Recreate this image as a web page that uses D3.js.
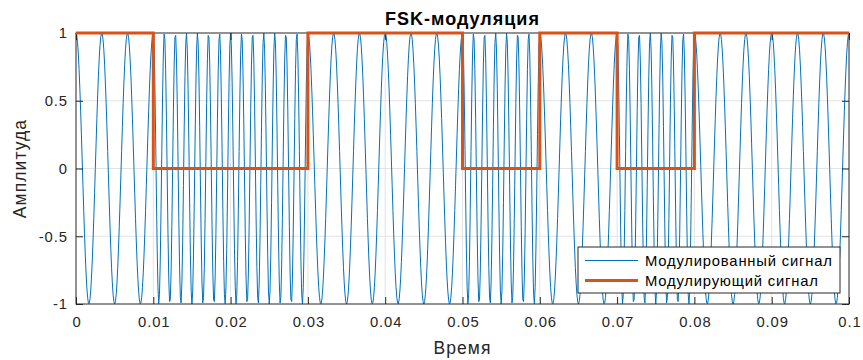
<!DOCTYPE html>
<html>
<head>
<meta charset="utf-8">
<script src="https://cdn.jsdelivr.net/npm/d3@7"></script>
<style>
  body { margin: 0; background: #fff; }
  svg { display: block; font-family: "Liberation Sans", Arial, sans-serif; }
</style>
</head>
<body>
<div id="chart"></div>
<script>
// FSK modulation chart

// bit sequence, one bit per 0.01 s
var bits = [1, 0, 0, 1, 1, 0, 1, 0, 1, 1];
var bitDuration = 0.01;
// carrier frequency (Hz) for bit 0 and bit 1
var carrierFreq = [700, 300];
var sampleRate = 10000;

var xTicks = [0, 0.01, 0.02, 0.03, 0.04, 0.05, 0.06, 0.07, 0.08, 0.09, 0.1];
var xTickLabels = ['0', '0.01', '0.02', '0.03', '0.04', '0.05', '0.06', '0.07', '0.08', '0.09', '0.1'];
var yTicks = [-1, -0.5, 0, 0.5, 1];
var yTickLabels = ['-1', '-0.5', '0', '0.5', '1'];
var seriesNames = ['Модулированный сигнал', 'Модулирующий сигнал'];

var width = 863, height = 360;
var margin = {top: 33, right: 14, bottom: 56, left: 76};
var w = width - margin.left - margin.right,
    h = height - margin.top - margin.bottom;

var blue = '#0072BD', orange = '#D95319', axisColor = '#262626';

// modulated signal sampled like the original plot
var nSamples = Math.round(bits.length * bitDuration * sampleRate);
var modulated = d3.range(nSamples + 1).map(function(i) {
  var t = i / sampleRate;
  var k = Math.min(Math.floor(i / (bitDuration * sampleRate)), bits.length - 1);
  return {t: t, v: Math.cos(2 * Math.PI * carrierFreq[bits[k]] * t)};
});

// digital signal as steps
var digital = bits.map(function(b, i) { return {t: i * bitDuration, v: b}; });
digital.push({t: bits.length * bitDuration, v: bits[bits.length - 1]});

var x = d3.scaleLinear().domain([0, 0.1]).range([0, w]);
var y = d3.scaleLinear().domain([-1, 1]).range([h, 0]);

var svg = d3.select('#chart').append('svg')
  .attr('width', width)
  .attr('height', height);

var g = svg.append('g')
  .attr('transform', 'translate(' + margin.left + ',' + margin.top + ')');

// grid
g.append('g').selectAll('line')
  .data(xTicks.slice(1, -1))
  .enter().append('line')
  .attr('x1', function(d) { return x(d); })
  .attr('x2', function(d) { return x(d); })
  .attr('y1', 0).attr('y2', h)
  .style('stroke', '#e3e3e3').style('stroke-width', 1);

g.append('g').selectAll('line')
  .data(yTicks.slice(1, -1))
  .enter().append('line')
  .attr('y1', function(d) { return y(d); })
  .attr('y2', function(d) { return y(d); })
  .attr('x1', 0).attr('x2', w)
  .style('stroke', '#e3e3e3').style('stroke-width', 1);

// modulated line
g.append('path')
  .datum(modulated)
  .attr('d', d3.line().x(function(d) { return x(d.t); }).y(function(d) { return y(d.v); }))
  .style('fill', 'none')
  .style('stroke', blue)
  .style('stroke-width', 1);

// axes, ticks inward on all four sides
var tickLen = 7;
var xAxis = g.append('g')
  .attr('transform', 'translate(0,' + h + ')')
  .call(d3.axisBottom(x).tickValues(xTicks).tickSize(-tickLen).tickPadding(12)
    .tickFormat(function(d, i) { return xTickLabels[i]; }));
var yAxis = g.append('g')
  .call(d3.axisLeft(y).tickValues(yTicks).tickSize(-tickLen).tickPadding(9)
    .tickFormat(function(d, i) { return yTickLabels[i]; }));
var xAxisTop = g.append('g')
  .call(d3.axisTop(x).tickValues(xTicks).tickSize(-tickLen).tickFormat(''));
var yAxisRight = g.append('g')
  .attr('transform', 'translate(' + w + ',0)')
  .call(d3.axisRight(y).tickValues(yTicks).tickSize(-tickLen).tickFormat(''));

[xAxis, yAxis, xAxisTop, yAxisRight].forEach(function(a) {
  a.select('.domain').remove();
  a.selectAll('.tick line').style('stroke', axisColor);
  a.selectAll('.tick text')
    .style('fill', axisColor)
    .style('font-size', '14.8px')
    .style('letter-spacing', '0.9px')
    .style('font-family', '"Liberation Sans", Arial, sans-serif');
});
yAxis.selectAll('.tick text').attr('dx', '0.9px');
xAxis.selectAll('.tick text').attr('dx', '0.45px');

g.append('rect')
  .attr('width', w).attr('height', h)
  .style('fill', 'none')
  .style('stroke', axisColor)
  .style('stroke-width', 1);

// digital (modulating) signal
g.append('path')
  .datum(digital)
  .attr('d', d3.line().curve(d3.curveStepAfter)
    .x(function(d) { return x(d.t); }).y(function(d) { return y(d.v); }))
  .style('fill', 'none')
  .style('stroke', orange)
  .style('stroke-width', 3);

// title and labels
svg.append('text')
  .attr('x', margin.left + w / 2)
  .attr('y', 25)
  .style('text-anchor', 'middle')
  .style('font-weight', 'bold')
  .style('font-size', '18px')
  .style('letter-spacing', '1px')
  .style('fill', '#000')
  .text('FSK-модуляция');

svg.append('text')
  .attr('x', margin.left + w / 2)
  .attr('y', 354)
  .style('text-anchor', 'middle')
  .style('font-size', '17.5px')
  .style('letter-spacing', '1.1px')
  .style('fill', axisColor)
  .text('Время');

svg.append('text')
  .attr('transform', 'translate(26,' + (margin.top + h / 2) + ') rotate(-90)')
  .style('text-anchor', 'middle')
  .style('font-size', '17.5px')
  .style('letter-spacing', '1.1px')
  .style('fill', axisColor)
  .text('Амплитуда');

// legend
var legend = g.append('g')
  .attr('transform', 'translate(' + (x(0) + 502) + ',' + (214) + ')');

legend.append('rect')
  .attr('width', 262).attr('height', 46)
  .style('fill', '#fff')
  .style('stroke', axisColor)
  .style('stroke-width', 1);

var items = legend.selectAll('.legendItem')
  .data(seriesNames)
  .enter().append('g')
  .attr('class', 'legendItem')
  .attr('transform', function(d, i) { return 'translate(0,' + (13.5 + i * 20) + ')'; });

items.append('line')
  .attr('x1', 7).attr('x2', 60)
  .style('stroke', function(d, i) { return i === 0 ? blue : orange; })
  .style('stroke-width', function(d, i) { return i === 0 ? 1 : 3; });

items.append('text')
  .attr('x', 67)
  .attr('dy', '0.35em')
  .style('font-size', '14.8px')
  .style('letter-spacing', '0.8px')
  .style('fill', '#000')
  .text(function(d) { return d; });
</script>
</body>
</html>
